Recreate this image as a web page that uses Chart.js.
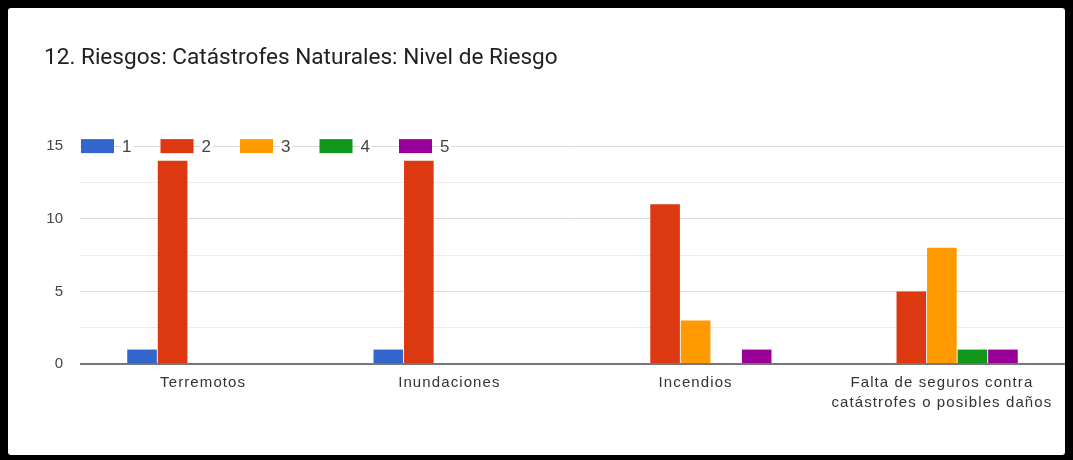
<!DOCTYPE html>
<html>
<head>
<meta charset="utf-8">
<script src="https://cdn.jsdelivr.net/npm/chart.js@4/dist/chart.umd.min.js"></script>
<style>
    html, body { margin: 0; padding: 0; background: #000; }
    #frame {
        position: absolute; left: 8px; top: 8px;
        width: 1057px; height: 447px;
        background: #fff; border-radius: 3px;
    }
</style>
</head>
<body>
<div id="frame"><canvas id="chart"></canvas></div>
<script>
    // datos
    const CATEGORIES = ["Terremotos", "Inundaciones", "Incendios", ["Falta de seguros contra", "catástrofes o posibles daños"]];
    const LEVELS = ["1", "2", "3", "4", "5"];
    const NIVEL_1 = [1, 1, 0, 0];
    const NIVEL_2 = [14, 14, 11, 5];
    const NIVEL_3 = [0, 0, 3, 8];
    const NIVEL_4 = [0, 0, 0, 1];
    const NIVEL_5 = [0, 0, 1, 1];
    const Y_TICKS = [0, 5, 10, 15];

    const COLORS = ["#3366cc", "#dc3912", "#ff9900", "#109618", "#990099"];
    const SERIES = [NIVEL_1, NIVEL_2, NIVEL_3, NIVEL_4, NIVEL_5];
    const AXIS_FONT = "'Liberation Sans', Arial, sans-serif";

    // las etiquetas del eje x van algo mas espaciadas (sus ticks se dibujan con z 1)
    const wideLabels = {
        id: "wideLabels",
        afterDatasetsDraw(chart) { chart.ctx.letterSpacing = "1.1px"; },
        afterDraw(chart) { chart.ctx.letterSpacing = "0px"; }
    };

    // leyenda estilo google, sobre la linea de 15
    const inlineLegend = {
        id: "inlineLegend",
        afterDraw(chart) {
            let ctx = chart.ctx;
            let y = chart.scales.y.getPixelForValue(Y_TICKS[Y_TICKS.length - 1]);
            let x = chart.chartArea.left + 1;
            ctx.save();
            ctx.font = "17px " + AXIS_FONT;
            ctx.textBaseline = "middle";
            chart.data.datasets.forEach(function (ds) {
                ctx.fillStyle = ds.backgroundColor;
                ctx.fillRect(x, y - 7, 33, 14);
                let w = ctx.measureText(ds.label).width;
                ctx.fillStyle = "#fff";
                ctx.fillRect(x + 40, y - 8, w + 3, 16);
                ctx.fillStyle = "#444";
                ctx.fillText(ds.label, x + 41, y + 1);
                x += 79.5;
            });
            ctx.restore();
        }
    };

    new Chart(document.getElementById("chart"), {
        type: "bar",
        data: {
            labels: CATEGORIES,
            datasets: LEVELS.map(function (lvl, i) {
                return {
                    label: lvl,
                    data: SERIES[i],
                    backgroundColor: COLORS[i],
                    categoryPercentage: 0.62,
                    barPercentage: 0.97
                };
            })
        },
        options: {
            responsive: true,
            maintainAspectRatio: false,
            animation: false,
            layout: { padding: { left: 36, right: 0, top: 0, bottom: 41 } },
            plugins: {
                legend: { display: false },
                tooltip: { enabled: false },
                title: {
                    display: true,
                    text: "12. Riesgos: Catástrofes Naturales: Nivel de Riesgo",
                    align: "start",
                    color: "#212121",
                    font: { family: "Roboto", size: 22.6, weight: "normal" },
                    padding: { top: 37, bottom: 74 }
                }
            },
            scales: {
                x: {
                    grid: { display: false },
                    border: { display: false },
                    ticks: {
                        z: 1,
                        color: "#333",
                        padding: 1,
                        maxRotation: 0,
                        font: { family: AXIS_FONT, size: 15, lineHeight: 1.33 }
                    }
                },
                y: {
                    min: 0,
                    max: 15,
                    border: { display: false },
                    afterFit: function (scale) { scale.width = 36; },
                    grid: {
                        drawTicks: false,
                        color: function (c) {
                            if (c.tick.value === 0) return "#777";
                            return c.tick.value % 5 === 0 ? "#d9d9d9" : "#ececec";
                        },
                        lineWidth: function (c) { return c.tick.value === 0 ? 2 : 1; }
                    },
                    ticks: {
                        stepSize: 2.5,
                        padding: 17,
                        color: "#444",
                        font: { family: AXIS_FONT, size: 15 },
                        callback: function (v) { return Y_TICKS.includes(v) ? v : ""; }
                    }
                }
            }
        },
        plugins: [wideLabels, inlineLegend]
    });
</script>
</body>
</html>
